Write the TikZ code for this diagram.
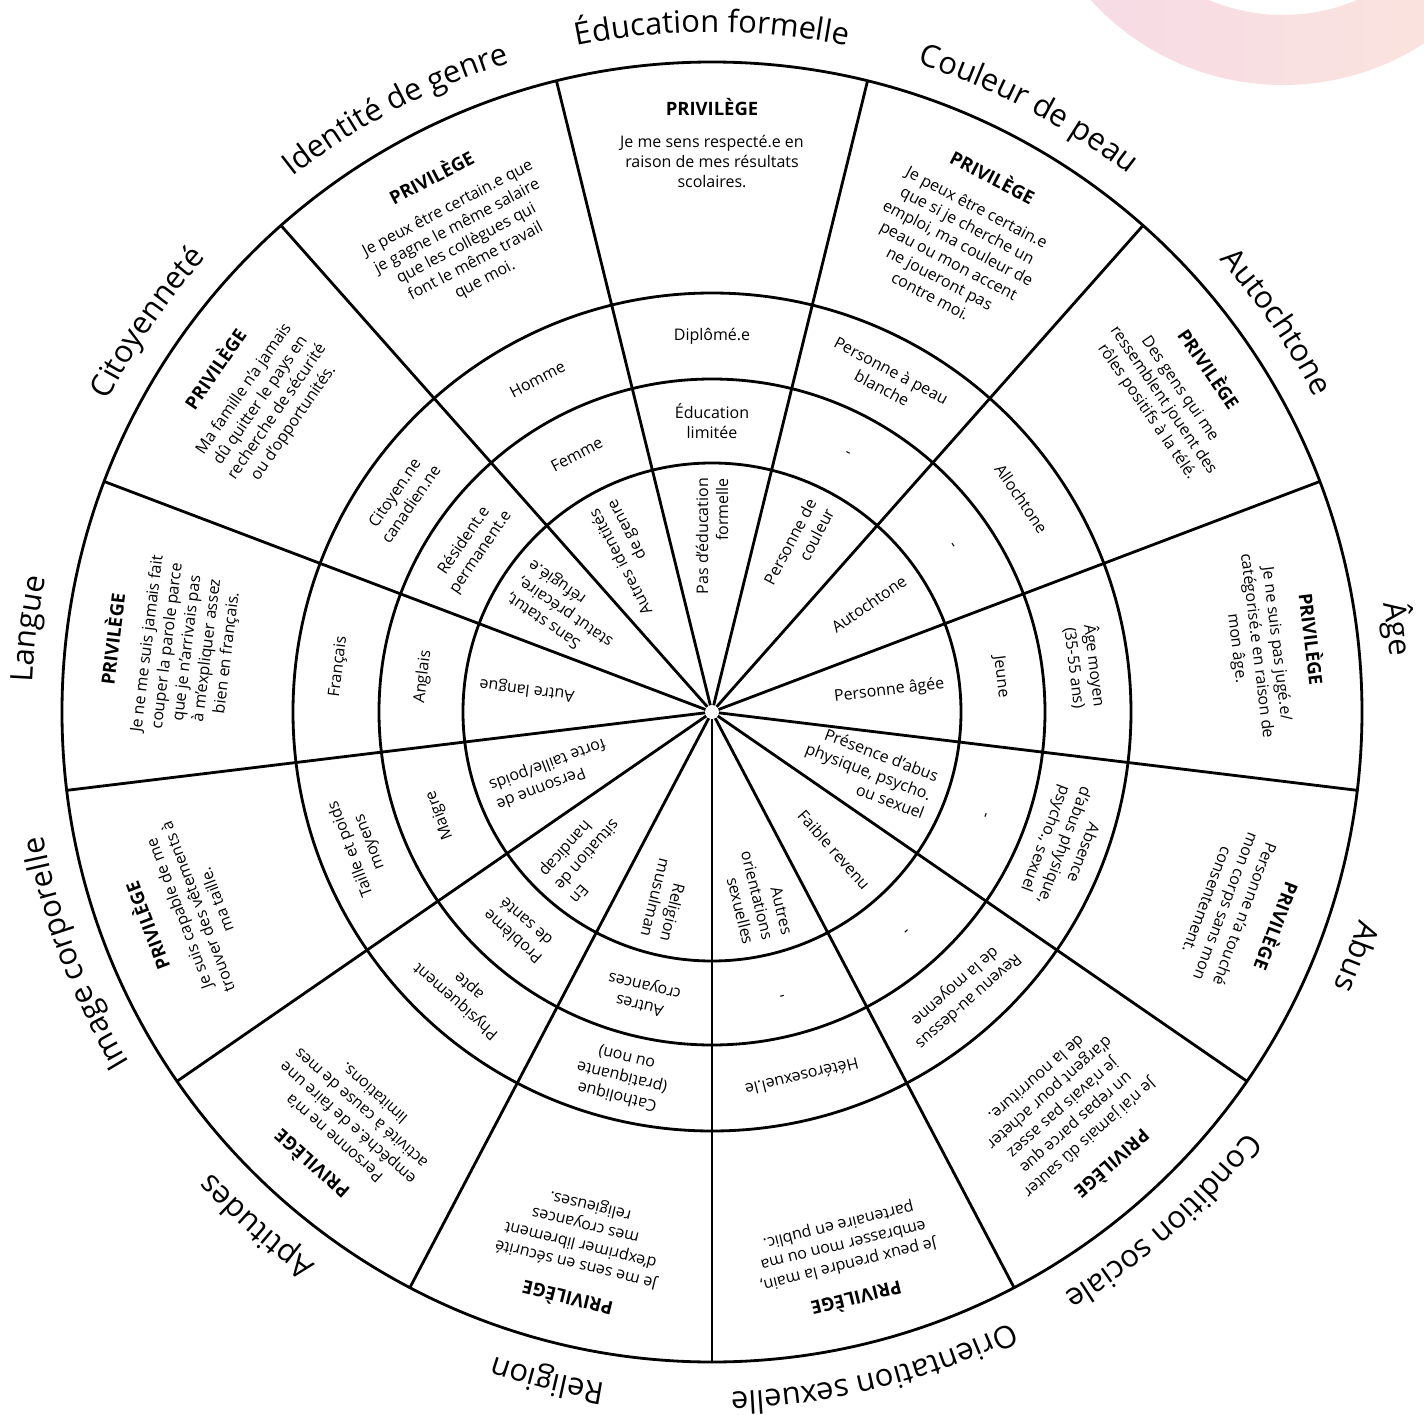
\documentclass[tikz,border=0pt]{standalone}
\usepackage{fontspec}
\setmainfont{Open Sans}
\usetikzlibrary{decorations.text}
\definecolor{ringpink}{HTML}{F6D9E7}
\definecolor{ringpeach}{HTML}{FBE6DC}
\newcommand{\catfont}{\fontsize{17.6}{20}\selectfont}
\newcommand{\txtfont}{\fontsize{9.1}{11.4}\selectfont}
\newcommand{\privsector}[6]{%
  \pgfmathsetmacro{\secang}{90-#1*360/13}%
  \path[decorate,decoration={text along path,text align=center,text={|\catfont|#2}}]
    ({\secang+20}:680) arc[start angle=\secang+20,end angle=\secang-20,radius=680];
  \node[privbox,rotate=\secang-90] (priv#1) at (\secang:614) {{\bfseries\fontsize{10.5}{13}\selectfont PRIVILÈGE}\\[7pt]#3};
  \node[ringtext,rotate=\secang-90] (outer#1) at (\secang:376) {#4};
  \node[ringtext,rotate=\secang-90] (middle#1) at (\secang:291) {#5};
  \node[innertext,rotate=\secang] (inner#1) at (\secang:236) {#6};
}
\begin{document}
\begin{tikzpicture}[x=0.02cm,y=0.02cm,
  wheel/.style={line width=1.6pt,black},
  privbox/.style={anchor=north,align=center,inner sep=0pt,font=\txtfont},
  ringtext/.style={align=center,inner sep=1pt,font=\txtfont},
  innertext/.style={anchor=east,align=right,inner sep=1pt,font=\txtfont}]
\useasboundingbox (-712,-702) rectangle (712,712);
\begin{scope}
\clip (-712,-702) rectangle (712,712);
\shade[left color=ringpink,right color=ringpeach,even odd rule] (571,887) circle[radius=260] (571,887) circle[radius=190];
\end{scope}
\foreach \k in {0,...,12} \draw[wheel] (0,0) -- ({-90+\k*360/13}:650);
\foreach \r in {650,419,333,249} \draw[wheel] (0,0) circle[radius=\r];
\node[circle,fill=white,inner sep=0pt,minimum size=0.28cm] (hub) at (0,0) {};
\privsector{0}{Éducation formelle}{Je me sens respecté.e en\\raison de mes résultats\\scolaires.}{Diplômé.e}{Éducation\\limitée}{Pas d'éducation\\formelle}
\privsector{1}{Couleur de peau}{Je peux être certain.e\\que si je cherche un\\emploi, ma couleur de\\peau ou mon accent\\ne joueront pas\\contre moi.}{Personne à peau\\blanche}{-}{Personne de\\couleur}
\privsector{2}{Autochtone}{Des gens qui me\\ressemblent jouent des\\rôles positifs à la télé.}{Allochtone}{-}{Autochtone}
\privsector{3}{Âge}{Je ne suis pas jugé.e/\\catégorisé.e en raison de\\mon âge.}{Âge moyen\\(35-55 ans)}{Jeune}{Personne âgée}
\privsector{4}{Abus}{Personne n'a touché\\mon corps sans mon\\consentement.}{Absence\\d'abus physique,\\psycho., sexuel}{-}{Présence d'abus\\physique, psycho.\\ou sexuel}
\privsector{5}{Condition sociale}{Je n'ai jamais dû sauter\\un repas parce que\\je n'avais pas assez\\d'argent pour acheter\\de la nourriture.}{Revenu au-dessus\\de la moyenne}{-}{Faible revenu}
\privsector{6}{Orientation sexuelle}{Je peux prendre la main,\\embrasser mon ou ma\\partenaire en public.}{Hétérosexuel.le}{-}{Autres\\orientations\\sexuelles}
\privsector{7}{Religion}{Je me sens en sécurité\\d'exprimer librement\\mes croyances\\religieuses.}{Catholique\\(pratiquante\\ou non)}{Autres\\croyances}{Religion\\musulman}
\privsector{8}{Aptitudes}{Personne ne m'a\\empêché.e de faire une\\activité à cause de mes\\limitations.}{Physiquement\\apte}{Problème\\de santé}{En\\situation de\\handicap}
\privsector{9}{Image corporelle}{Je suis capable de me\\trouver des vêtements à\\ma taille.}{Taille et poids\\moyens}{Maigre}{Personne de\\forte taille/poids}
\privsector{10}{Langue}{Je ne me suis jamais fait\\couper la parole parce\\que je n'arrivais pas\\à m'expliquer assez\\bien en français.}{Français}{Anglais}{Autre langue}
\privsector{11}{Citoyenneté}{Ma famille n'a jamais\\dû quitter le pays en\\recherche de sécurité\\ou d'opportunités.}{Citoyen.ne\\canadien.ne}{Résident.e\\permanent.e}{Sans statut,\\statut précaire,\\réfugié.e}
\privsector{12}{Identité de genre}{Je peux être certain.e que\\je gagne le même salaire\\que les collègues qui\\font le même travail\\que moi.}{Homme}{Femme}{Autres identités\\de genre}
\end{tikzpicture}
\end{document}
